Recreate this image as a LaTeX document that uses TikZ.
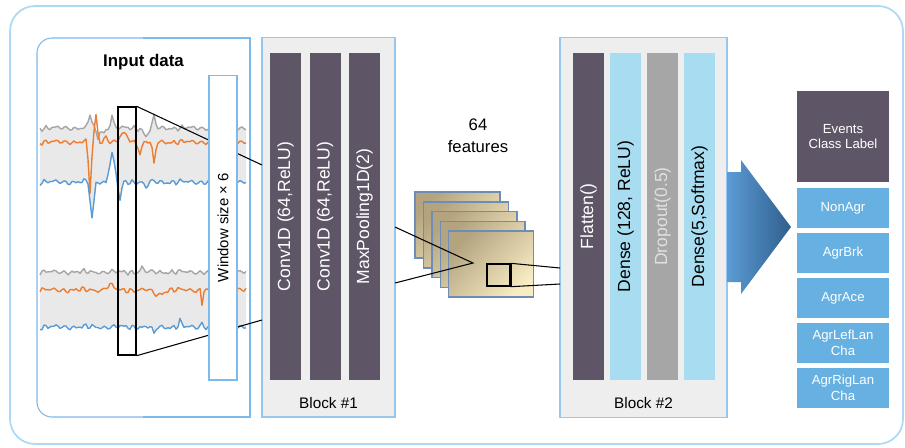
\documentclass[tikz,border=0pt]{standalone}
\usepackage{fontspec}
\setmainfont{Liberation Sans}
\usepackage{tikz}
\usetikzlibrary{positioning}
\definecolor{cnnframe}{HTML}{AFD8F5}
\definecolor{cnnedge}{HTML}{7DB9EA}
\definecolor{cnnblk}{HTML}{EEEEEE}
\definecolor{cnndark}{HTML}{5E5666}
\definecolor{cnnsky}{HTML}{A8DDF1}
\definecolor{cnndrop}{HTML}{A6A6A6}
\definecolor{cnnlab}{HTML}{66B1E2}
\definecolor{sigg}{HTML}{A5A5A5}
\definecolor{sigo}{HTML}{ED7D31}
\definecolor{sigb}{HTML}{5B9BD5}
\definecolor{sigfill}{HTML}{E9E9E9}
\definecolor{mapdk}{HTML}{B3A47F}
\definecolor{maplt}{HTML}{F8ECC4}
\definecolor{mapedge}{HTML}{6E8DB6}
\definecolor{arrlt}{HTML}{5B9BD5}
\definecolor{arrdk}{HTML}{2F5F8C}

\begin{document}
\begin{tikzpicture}[
  x=0.02cm, y=-0.02cm,
  declare function={
    nz(\x,\ph)=sin(37*\x+\ph)+0.7*sin(53*\x+2*\ph)+0.5*sin(61*\x+3*\ph)+0.6*sin(11*\x+\ph);
    sp(\x,\ctr,\wid)=max(0,1-abs(\x-\ctr)/\wid);
    gu(\x)=128+1.3*nz(\x,0)-15*sp(\x,90,3)+11*sp(\x,98,3)+5*sp(\x,104,4)-13*sp(\x,112,3)+9*sp(\x,146,5)-11*sp(\x,154,3);
    ou(\x)=142+1.3*nz(\x,20)+50*sp(\x,90,3)-28*sp(\x,96,3)-6*sp(\x,106,4)-9*sp(\x,124,8)+13*sp(\x,140,3)+23*sp(\x,154,3);
    bu(\x)=182+1.4*nz(\x,45)+38*sp(\x,92,4)-28*sp(\x,112,6)+20*sp(\x,120,3)+6*sp(\x,146,4);
    gl(\x)=272+1.3*nz(\x,70)-5*sp(\x,142,3);
    ol(\x)=290+1.4*nz(\x,90)-5*sp(\x,110,8)+5*sp(\x,158,10)+14*sp(\x,202,2);
    bl(\x)=327+1.4*nz(\x,30)+8*sp(\x,154,3)-6*sp(\x,180,3)-4*sp(\x,202,3);
  },
  sig/.style={line width=0.8pt, line join=round},
  link/.style={draw=black, line width=0.6pt},
  blk/.style={draw=cnnedge!80, fill=cnnblk, line width=0.6pt,
              minimum height=7.6cm, inner sep=0pt},
  blab/.style={font=\fontsize{8.7}{10}\selectfont},
  bar/.style={rotate=90, minimum width=6.54cm, minimum height=0.62cm,
              inner sep=0pt, font=\fontsize{10}{12}\selectfont},
  dkbar/.style={bar, fill=cnndark, text=white},
  skybar/.style={bar, fill=cnnsky, text=black},
  dropbar/.style={bar, fill=cnndrop, text=white!88!black},
  fmap/.style={draw=mapedge, line width=0.8pt, minimum width=1.7cm,
               minimum height=1.32cm, top color=mapdk, bottom color=maplt,
               shading angle=45, inner sep=0pt},
  hdr/.style={fill=cnndark, text=white, minimum width=1.84cm,
              minimum height=1.82cm, align=center, inner sep=0pt,
              font=\fontsize{7.5}{8.5}\selectfont},
  lab/.style={fill=cnnlab, text=white, minimum width=1.84cm,
              minimum height=0.8cm, align=center, inner sep=0pt,
              font=\fontsize{7.5}{9}\selectfont},
]
\useasboundingbox (0,0) rectangle (905,447);
\draw[cnnframe, line width=1pt, rounded corners=0.5cm] (10,6) rectangle (903,444);

\draw[cnnedge, line width=0.6pt, rounded corners=0.3cm] (143,38) -- (37,38) -- (37,417) -- (143,417);
\draw[cnnedge, line width=0.6pt] (143,38) -- (250,38) -- (250,417) -- (143,417);
\node[font=\fontsize{9.6}{11}\selectfont\bfseries] (title) at (143.5,62.5) {Input data};

\fill[sigfill] plot[domain=40:246, samples=104] (\x,{gu(\x)})
  -- plot[domain=246:40, samples=104] (\x,{bu(\x)}) -- cycle;
\draw[sig, sigg] plot[domain=40:246, samples=104] (\x,{gu(\x)});
\draw[sig, sigo] plot[domain=40:246, samples=104] (\x,{ou(\x)});
\draw[sig, sigb] plot[domain=40:246, samples=104] (\x,{bu(\x)});
\fill[sigfill] plot[domain=40:246, samples=104] (\x,{gl(\x)})
  -- plot[domain=246:40, samples=104] (\x,{bl(\x)}) -- cycle;
\draw[sig, sigg] plot[domain=40:246, samples=104] (\x,{gl(\x)});
\draw[sig, sigo] plot[domain=40:246, samples=104] (\x,{ol(\x)});
\draw[sig, sigb] plot[domain=40:246, samples=104] (\x,{bl(\x)});

\node[draw, line width=0.8pt, minimum width=0.36cm, minimum height=4.96cm,
      inner sep=0pt] (win) at (127,231) {};

\node[blk, minimum width=2.66cm] (b1) at (328.5,227) {};
\node[blk, minimum width=3.34cm] (b2) at (643.5,227.5) {};
\coordinate (b1in1) at (262,165);
\coordinate (b1in2) at (262,320);
\draw[link] (win.north east) -- (b1in1);
\draw[link] (win.south east) -- (b1in2);

\node[rotate=90, draw=cnnedge, fill=white, line width=0.6pt, minimum width=6.1cm,
      minimum height=0.56cm, inner sep=0pt,
      font=\fontsize{8.5}{10}\selectfont] (wsz) at (223,227.5) {Window size × 6};

\node[dkbar] (conv1) at (285.5,216.5) {Conv1D (64,ReLU)};
\node[dkbar] (conv2) at (325,216.5)   {Conv1D (64,ReLU)};
\node[dkbar] (pool)  at (364.5,216.5) {MaxPooling1D(2)};
\node[blab]  (b1lab) at (328.5,403)   {Block \#1};

\node[dkbar]   (flat)  at (588.5,216.5) {Flatten()};
\node[skybar]  (dense) at (625.5,216.5) {Dense (128, ReLU)};
\node[dropbar] (drop)  at (662.5,216.5) {Dropout(0.5)};
\node[skybar]  (soft)  at (699.5,216.5) {Dense(5,Softmax)};
\node[blab]    (b2lab) at (643.5,403)   {Block \#2};

\node[font=\fontsize{9.5}{12.5}\selectfont, align=center] (feat) at (478,136) {64\\features};
\node[fmap] (fm1) at (457.5,225)  {};
\node[fmap] (fm2) at (465.9,234.8) {};
\node[fmap] (fm3) at (474.3,244.5) {};
\node[fmap] (fm4) at (482.7,254.3) {};
\node[fmap] (fm5) at (491.1,264)  {};
\coordinate (b1out1) at (395,227);
\coordinate (b1out2) at (395,283);
\coordinate (apex)   at (473,263);
\draw[link] (b1out1) -- (apex) -- (b1out2);

\node[draw, line width=0.8pt, minimum width=0.46cm, minimum height=0.44cm,
      inner sep=0pt] (pick) at (498.5,275) {};
\draw[line width=1.3pt] (pick.north east) -- (pick.south east);
\coordinate (b2in1) at (560,268);
\coordinate (b2in2) at (560,284);
\draw[link] (pick.north east) -- (b2in1);
\draw[link] (pick.south east) -- (b2in2);

\shade[left color=arrlt, right color=arrdk]
  (727,172) -- (741,172) -- (741,160) -- (791,227) -- (741,294)
  -- (741,282) -- (727,282) -- cycle;

\node[hdr] (cls)  at (843,136.5) {Events\\Class Label};
\node[lab] (non)  at (843,208) {NonAgr};
\node[lab] (brk)  at (843,253) {AgrBrk};
\node[lab] (ace)  at (843,298) {AgrAce};
\node[lab] (left) at (843,343) {AgrLefLan\\Cha};
\node[lab] (rig)  at (843,388) {AgrRigLan\\Cha};
\end{tikzpicture}
\end{document}
